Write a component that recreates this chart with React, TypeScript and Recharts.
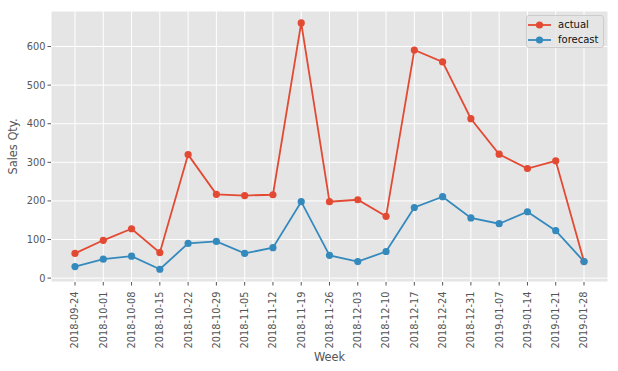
import { LineChart, Line, XAxis, YAxis, CartesianGrid, Legend } from "recharts";

const weeks = [
  "2018-09-24", "2018-10-01", "2018-10-08", "2018-10-15", "2018-10-22",
  "2018-10-29", "2018-11-05", "2018-11-12", "2018-11-19", "2018-11-26",
  "2018-12-03", "2018-12-10", "2018-12-17", "2018-12-24", "2018-12-31",
  "2019-01-07", "2019-01-14", "2019-01-21", "2019-01-28",
];

const actual = [
  64, 98, 128, 66, 320, 217, 214, 216, 661, 198,
  203, 160, 591, 560, 413, 321, 284, 304, 43,
];

const forecast = [
  30, 49, 57, 23, 90, 95, 64, 79, 198, 59,
  43, 69, 183, 211, 156, 141, 172, 123, 43,
];

const yTicks = [0, 100, 200, 300, 400, 500, 600];

const series = [
  { key: "actual", color: "#E24A33" },
  { key: "forecast", color: "#348ABD" },
];

const data = weeks.map((week, i) => ({
  week,
  actual: actual[i],
  forecast: forecast[i],
}));

const FONT = "'DejaVu Sans', sans-serif";
const TICK_COLOR = "#555555";

function WeekTick({ x, y, payload }: any) {
  return (
    <g transform={`translate(${x},${y})`}>
      <text
        transform="rotate(-90)"
        x={0}
        y={0}
        dy="0.35em"
        textAnchor="end"
        fill={TICK_COLOR}
        fontSize={9.8}
        fontFamily={FONT}
      >
        {payload.value}
      </text>
    </g>
  );
}

function LegendBox() {
  return (
    <div
      style={{
        width: 78,
        height: 33,
        boxSizing: "border-box",
        background: "rgba(229,229,229,0.8)",
        border: "1px solid #cccccc",
        borderRadius: 3,
        paddingTop: 1,
        fontFamily: FONT,
        fontSize: 10,
        color: "#111",
      }}
    >
      {series.map((s) => (
        <div key={s.key} style={{ display: "flex", alignItems: "center", height: 15 }}>
          <svg width={31} height={10} style={{ flex: "none" }}>
            <line x1={1} x2={24} y1={5} y2={5} stroke={s.color} strokeWidth={1.8} />
            <circle cx={12.5} cy={5} r={3.6} fill={s.color} />
          </svg>
          <span>{s.key}</span>
        </div>
      ))}
    </div>
  );
}

export default function App() {
  return (
    <div style={{ position: "absolute", left: 0, top: 0, background: "#fff" }}>
      <LineChart
        width={618}
        height={371}
        data={data}
        margin={{ top: 11, right: 10, bottom: 0, left: 0 }}
      >
        <CartesianGrid stroke="#ffffff" fill="#E5E5E5" strokeWidth={1} />
        <XAxis
          dataKey="week"
          height={89}
          padding={{ left: 24, right: 24 }}
          axisLine={false}
          tickLine={{ stroke: TICK_COLOR }}
          tickSize={3.5}
          tickMargin={6}
          interval={0}
          tick={<WeekTick />}
          label={{
            content: () => (
              <text
                x={329.5}
                y={357}
                dy="0.35em"
                textAnchor="middle"
                fill={TICK_COLOR}
                fontSize={11.4}
                fontFamily={FONT}
              >
                Week
              </text>
            ),
          }}
        />
        <YAxis
          width={51}
          domain={[-10, 692]}
          ticks={yTicks}
          allowDataOverflow
          axisLine={false}
          tickLine={{ stroke: TICK_COLOR }}
          tickSize={3.5}
          tickMargin={2}
          tick={{ fill: TICK_COLOR, fontSize: 9.8, fontFamily: FONT }}
          label={{
            content: () => (
              <text
                x={13}
                y={146.5}
                transform="rotate(-90, 13, 146.5)"
                dy="0.35em"
                textAnchor="middle"
                fill={TICK_COLOR}
                fontSize={11.4}
                fontFamily={FONT}
              >
                Sales Qty.
              </text>
            ),
          }}
        />
        <Legend
          layout="horizontal"
          verticalAlign="middle"
          align="center"
          wrapperStyle={{ top: 15, left: 526, width: 78, height: 33 }}
          content={() => <LegendBox />}
        />
        {series.map((s) => (
          <Line
            key={s.key}
            type="linear"
            dataKey={s.key}
            stroke={s.color}
            strokeWidth={1.8}
            dot={{ r: 3.6, fill: s.color, stroke: s.color, strokeWidth: 0 }}
            activeDot={false}
            isAnimationActive={false}
          />
        ))}
      </LineChart>
    </div>
  );
}
